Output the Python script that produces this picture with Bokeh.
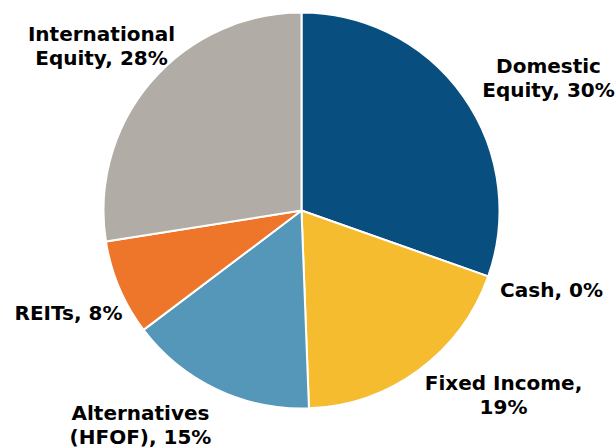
import math
from bokeh.plotting import figure
from bokeh.models import Range1d, ColumnDataSource
from bokeh.core.properties import value
from bokeh.embed import file_html
from bokeh.resources import INLINE

categories = ["Domestic Equity", "Cash", "Fixed Income", "Alternatives (HFOF)", "REITs", "International Equity"]
labels = ["Domestic\nEquity, 30%", "Cash, 0%", "Fixed Income,\n19%", "Alternatives\n(HFOF), 15%", "REITs, 8%", "International\nEquity, 28%"]
values = [30.4, 0.0, 19.0, 15.3, 7.8, 27.5]
colors = ["#084F80", "#7F7F7F", "#F5BC2F", "#5597B9", "#EE762B", "#B1ADA6"]

W, H = 615, 447
cx, cy, R = 301, H - 210, 198
# label anchor positions (layout, in pixels from top-left)
label_pos = [(548, 77), (551, 289), (503, 394), (140, 424), (68, 312), (101, 45)]

total = sum(values)
starts, ends = [], []
cum = 0
for v in values:
    a0 = math.pi / 2 - 2 * math.pi * (cum + v) / total
    a1 = math.pi / 2 - 2 * math.pi * cum / total
    starts.append(a0)
    ends.append(a1)
    cum += v

p = figure(width=W, height=H, output_backend="svg", toolbar_location=None,
           x_range=Range1d(0, W), y_range=Range1d(0, H), min_border=0)
p.axis.visible = False
p.grid.visible = False
p.outline_line_color = None
p.background_fill_color = "white"

src = ColumnDataSource(dict(start=[s for s, v in zip(starts, values) if v > 0],
                            end=[e for e, v in zip(ends, values) if v > 0],
                            color=[c for c, v in zip(colors, values) if v > 0]))
p.wedge(x=cx, y=cy, radius=R, start_angle="start", end_angle="end",
        fill_color="color", line_color="white", line_width=2, source=src)

tsrc = ColumnDataSource(dict(x=[lp[0] for lp in label_pos], y=[H - lp[1] for lp in label_pos], text=labels))
p.text(x="x", y="y", text="text", source=tsrc, text_align="center", text_baseline="middle",
       text_font=value("DejaVu Sans"), text_font_style="bold", text_font_size="20px",
       text_color="#000000", text_line_height=1.0)

open("out.html", "w").write(file_html(p, INLINE))
